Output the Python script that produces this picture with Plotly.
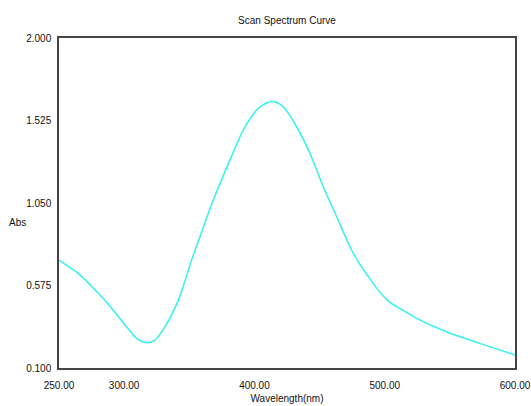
import plotly.graph_objects as go

wavelength = [250, 264.8, 280.2, 290.4, 300.7, 309.6, 317.3, 323.7, 331.4, 341.6,
              351.8, 358.2, 368.4, 381.2, 391.4, 401.7, 409.5, 413.2, 417.0, 422.1,
              432.4, 442.6, 452.8, 463.1, 473.3, 480.0, 487.4, 493.0, 498.9, 504.0,
              509.2, 524.5, 547.3, 572.9, 600]
absorbance = [0.720, 0.645, 0.530, 0.444, 0.348, 0.271, 0.246, 0.261, 0.338, 0.491,
              0.722, 0.856, 1.067, 1.297, 1.470, 1.585, 1.627, 1.635, 1.629, 1.604,
              1.489, 1.336, 1.144, 0.971, 0.798, 0.708, 0.626, 0.567, 0.515, 0.478,
              0.453, 0.386, 0.309, 0.242, 0.175]

x_ticks = [250, 300, 400, 500, 600]
x_tick_text = ["250.00", "300.00", "400.00", "500.00", "600.00"]
y_ticks = [0.100, 0.575, 1.050, 1.525, 2.000]
y_tick_text = ["0.100", "0.575", "1.050", "1.525", "2.000"]

font_family = "Liberation Sans, Arial, sans-serif"
fsize = 10

fig = go.Figure()
fig.add_trace(go.Scatter(
    x=wavelength, y=absorbance, mode="lines",
    line=dict(color="#33F2F2", width=1.5, shape="spline", smoothing=0.8),
    hoverinfo="skip", showlegend=False,
))

fig.update_layout(
    width=531, height=406,
    margin=dict(l=59, r=16, t=38, b=38, autoexpand=False),
    paper_bgcolor="white", plot_bgcolor="white",
    font=dict(family=font_family, size=fsize, color="#111"),
    title=dict(text="Scan Spectrum Curve", x=0.5, xanchor="center",
               xref="paper", y=1 - 20 / 406, yanchor="middle",
               font=dict(family=font_family, size=fsize, color="#111")),
    xaxis=dict(range=[250, 600], tickvals=x_ticks, ticktext=x_tick_text,
               showgrid=False, zeroline=False, showline=True, mirror=True,
               linecolor="#444", linewidth=1.5, ticks="", automargin=False,
               ticklabelstandoff=7, ticklabeloverflow="allow",
               title=dict(text="Wavelength(nm)", standoff=5,
                          font=dict(family=font_family, size=fsize))),
    yaxis=dict(range=[0.1, 2.0], tickvals=y_ticks, ticktext=y_tick_text,
               showgrid=False, zeroline=False, showline=True, mirror=True,
               linecolor="#444", linewidth=1.5, ticks="", ticklabelstandoff=4,
               ticklabeloverflow="allow", automargin=False),
    annotations=[dict(text="Abs", x=-0.09, xref="paper", y=0.44, yref="paper",
                      showarrow=False, xanchor="center", yanchor="middle",
                      font=dict(family=font_family, size=fsize, color="#111"))],
)

fig.write_html("out.html")
